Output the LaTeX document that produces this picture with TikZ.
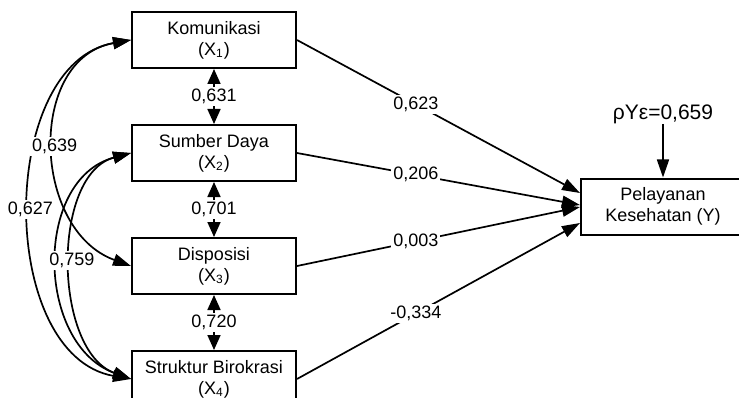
\documentclass[tikz,border=0pt]{standalone}
\usepackage{fontspec}
\setmainfont{Liberation Sans}
\usetikzlibrary{arrows.meta, positioning}

\begin{document}
\begin{tikzpicture}[
  x=0.5pt, y=0.5pt,
  font=\fontsize{9}{10.5}\selectfont,
  box/.style={rectangle, draw, line width=1pt, minimum width=82pt, minimum height=28pt, align=center, inner sep=2pt},
  effect/.style={-{Triangle[length=9pt, width=6pt]}, line width=0.85pt},
  corr/.style={{Triangle[length=9pt, width=6pt]}-{Triangle[length=9pt, width=6pt]}, line width=0.85pt},
  link/.style={{Triangle[length=7.5pt, width=6.5pt]}-{Triangle[length=7.5pt, width=6.5pt]}, line width=0.85pt},
  coef/.style={fill=white, inner sep=1pt}
]
\useasboundingbox (0,0) rectangle (739,397);

\node[box] (x1) at (214,357) {Komunikasi\\(X\textsubscript{1})};
\node[box, below=27.5pt of x1] (x2) {Sumber Daya\\(X\textsubscript{2})};
\node[box, below=27.5pt of x2] (x3) {Disposisi\\(X\textsubscript{3})};
\node[box, below=27.5pt of x3] (x4) {Struktur Birokrasi\\(X\textsubscript{4})};
\node[box] (y) at (663,190.5) {Pelayanan\\Kesehatan (Y)};
\node[anchor=south, inner sep=0pt, font=\fontsize{10.5}{12}\selectfont] (eps) at (663,273) {ρYε=0,659};

\draw[link] (x1) -- node[coef] {0,631} (x2);
\draw[link] (x2) -- node[coef] {0,701} (x3);
\draw[link] (x3) -- node[coef] {0,720} (x4);

\draw[corr] (x1.west) to[out=190, in=170, looseness=1.03] node[coef] {0,627} (x4.west);
\draw[corr] (x2.west) to[out=195, in=160, looseness=1.15] (x4.west);
\draw[corr] (x2.west) to[out=195, in=160, looseness=0.94] node[coef, yshift=1.5pt] {0,759} (x4.west);
\draw[corr] (x1.west) to[out=190, in=160, looseness=1.2] node[coef] {0,639} (x3.west);

\draw[effect] (x1.east) -- node[coef, pos=0.42] {0,623} ([yshift=6.75pt]y.west);
\draw[effect] (x2.east) -- node[coef, pos=0.42] {0,206} ([yshift=0.75pt]y.west);
\draw[effect] (x3.east) -- node[coef, pos=0.42] {0,003} ([yshift=-0.25pt]y.west);
\draw[effect] (x4.east) -- node[coef, pos=0.42] {-0,334} ([yshift=-8.25pt]y.west);
\draw[effect] (eps) -- (y);
\end{tikzpicture}
\end{document}
